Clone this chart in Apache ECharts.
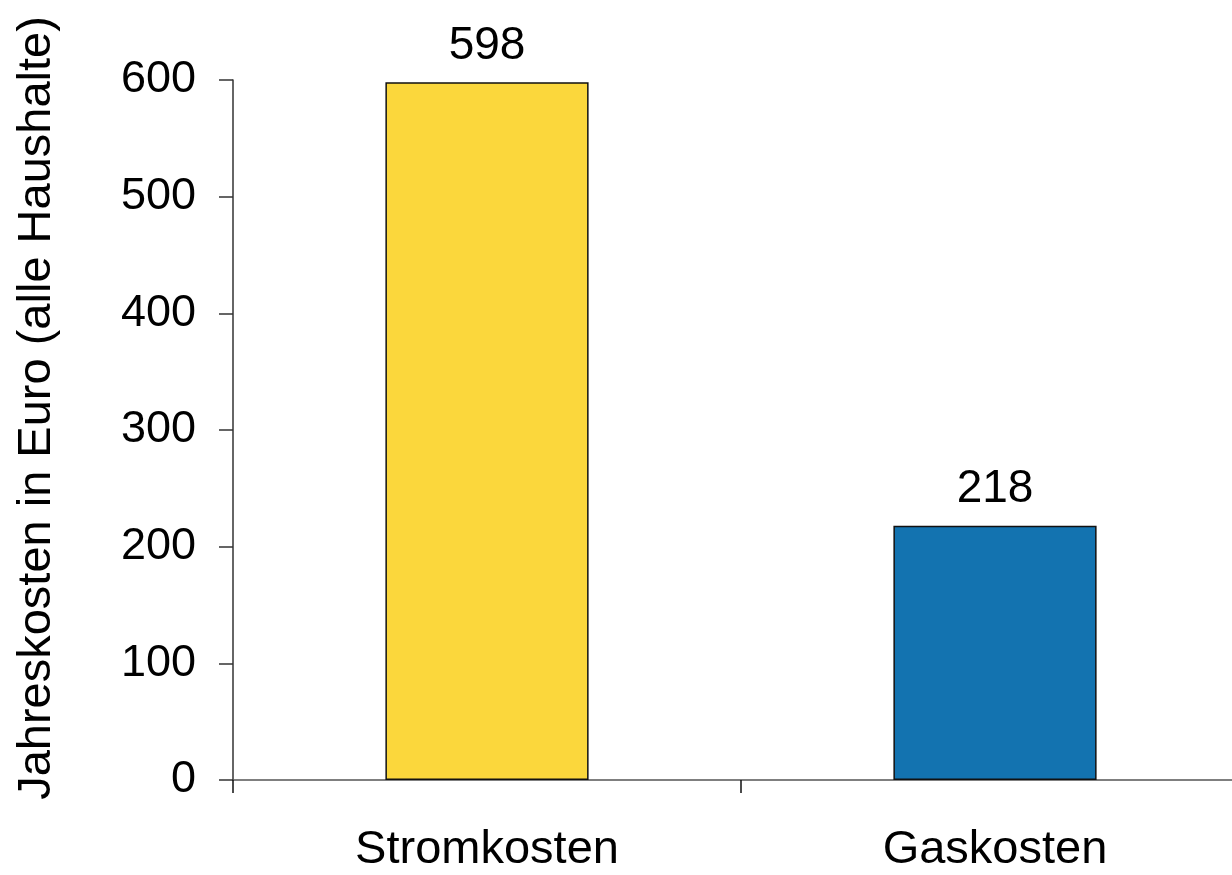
<!DOCTYPE html>
<html><head><meta charset="utf-8">
<script src="https://cdn.jsdelivr.net/npm/echarts@6/dist/echarts.min.js"></script>
<style>html,body{margin:0;padding:0;background:#fff}#c{width:1232px;height:875px}</style>
</head><body><div id="c"></div>
<script>
const categories = ['Stromkosten', 'Gaskosten'];
const values = [598, 218];
const barColors = ['#FBD73C', '#1373B0'];
const yTicks = [0, 100, 200, 300, 400, 500, 600];
const yTitle = 'Jahreskosten in Euro (alle Haushalte)';

const FONT = '"Liberation Sans", Arial, Helvetica, sans-serif';
const chart = echarts.init(document.getElementById('c'), null, {renderer: 'canvas'});
chart.setOption({
  animation: false,
  backgroundColor: '#fff',
  grid: {left: 233, right: -17, top: 80, bottom: 95, containLabel: false, outerBoundsMode: 'none'},
  xAxis: {
    type: 'category', data: categories,
    axisLine: {lineStyle: {color: '#555', width: 1.5}},
    axisTick: {show: true, length: 13, lineStyle: {color: '#111', width: 1.5}},
    axisLabel: {color: '#000', fontSize: 47, fontFamily: FONT, margin: 47}
  },
  yAxis: {
    type: 'value', min: yTicks[0], max: yTicks[yTicks.length - 1], interval: 100,
    name: yTitle, nameLocation: 'middle', nameGap: 172, nameRotate: 90,
    nameTextStyle: {color: '#000', fontSize: 47, fontFamily: FONT, padding: [0, 0, 0, 44]},
    axisLine: {show: true, lineStyle: {color: '#333', width: 1.5}},
    axisTick: {show: true, length: 14, lineStyle: {color: '#333', width: 1.5}},
    axisLabel: {color: '#000', fontSize: 45, fontFamily: FONT, margin: 37},
    splitLine: {show: false}
  },
  series: [{
    type: 'bar', barWidth: '40%',
    data: values.map((v, i) => ({value: v, itemStyle: {color: barColors[i]}})),
    itemStyle: {borderColor: '#111', borderWidth: 1.5},
    label: {show: true, position: 'top', distance: 13, color: '#000', fontSize: 46, fontFamily: FONT}
  }]
});
</script></body></html>
